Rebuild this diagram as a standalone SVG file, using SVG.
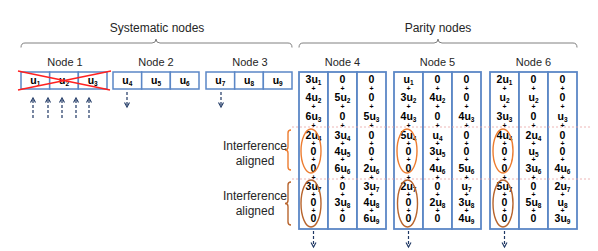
<svg xmlns="http://www.w3.org/2000/svg" width="598" height="251" viewBox="0 0 598 251">
<defs>
<marker id="ah" markerWidth="8" markerHeight="8" refX="5" refY="3" orient="auto" markerUnits="userSpaceOnUse">
<path d="M0.5,0.5 L5,3 L0.5,5.5" fill="none" stroke="#1F3864" stroke-width="1.1"/>
</marker>
</defs>
<style>
.box{fill:#fff;stroke:#5B87C6;stroke-width:1.5}
.pbox{fill:#fff;stroke:#5B87C6;stroke-width:1.8}
.t{font-family:"Liberation Sans",Arial,sans-serif;font-weight:bold;font-size:10.5px;text-anchor:middle;fill:#000}
.s{font-size:6.5px}
.p{font-family:"Liberation Sans",Arial,sans-serif;font-weight:bold;font-size:7px;text-anchor:middle;fill:#000}
.lbl{font-family:"Liberation Sans",Arial,sans-serif;font-size:11px;text-anchor:middle;fill:#262626}
.big{font-size:12px}
.brace{fill:none;stroke:#808080;stroke-width:1}
.arr{fill:none;stroke:#1F3864;stroke-width:1.2;stroke-dasharray:3 2;marker-end:url(#ah)}
.pink{stroke:#E8A3A3;stroke-width:0.8;stroke-dasharray:2 2}
.cross{stroke:#FF2020;stroke-width:1.5}
.e1{fill:none;stroke:#ED7D31;stroke-width:1.4}
.e2{fill:none;stroke:#B8652E;stroke-width:1.4}
</style>

<g id="headings">
<text class="lbl big" x="157" y="32">Systematic nodes</text>
<text class="lbl big" x="438" y="32">Parity nodes</text>
<path class="brace" d="M21,47.5 Q21,43 25,43 L152,43 Q156,43 156,39 Q156,43 160,43 L288,43 Q292,43 292,47.5"/>
<path class="brace" d="M299,47.5 Q299,43 303,43 L434,43 Q438,43 438,39 Q438,43 442,43 L573,43 Q577,43 577,47.5"/>
</g>

<g id="node1">
<text class="lbl" x="65" y="66">Node 1</text>
<rect class="box" x="21" y="72" width="28.67" height="17"/>
<rect class="box" x="49.67" y="72" width="28.67" height="17"/>
<rect class="box" x="78.33" y="72" width="28.67" height="17"/>
<text class="t" x="35.3" y="84">u<tspan class="s" dy="2">1</tspan></text>
<text class="t" x="64" y="84">u<tspan class="s" dy="2">2</tspan></text>
<text class="t" x="92.7" y="84">u<tspan class="s" dy="2">3</tspan></text>
<line class="cross" x1="18" y1="71" x2="110" y2="90"/>
<line class="cross" x1="18" y1="90" x2="111" y2="71"/>
</g>

<g id="node2">
<text class="lbl" x="156" y="66">Node 2</text>
<rect class="box" x="113" y="72" width="28.67" height="17"/>
<rect class="box" x="141.67" y="72" width="28.67" height="17"/>
<rect class="box" x="170.33" y="72" width="28.67" height="17"/>
<text class="t" x="127.3" y="84">u<tspan class="s" dy="2">4</tspan></text>
<text class="t" x="156" y="84">u<tspan class="s" dy="2">5</tspan></text>
<text class="t" x="184.7" y="84">u<tspan class="s" dy="2">6</tspan></text>
</g>

<g id="node3">
<text class="lbl" x="250" y="66">Node 3</text>
<rect class="box" x="206" y="72" width="28.67" height="17"/>
<rect class="box" x="234.67" y="72" width="28.67" height="17"/>
<rect class="box" x="263.33" y="72" width="28.67" height="17"/>
<text class="t" x="220.3" y="84">u<tspan class="s" dy="2">7</tspan></text>
<text class="t" x="249" y="84">u<tspan class="s" dy="2">8</tspan></text>
<text class="t" x="277.7" y="84">u<tspan class="s" dy="2">9</tspan></text>
</g>

<g id="node4">
<text class="lbl" x="342.5" y="66">Node 4</text>
<rect class="pbox" x="299" y="72" width="29" height="157"/>
<rect class="pbox" x="328" y="72" width="29" height="157"/>
<rect class="pbox" x="357" y="72" width="29" height="157"/>
</g>
<g id="node5">
<text class="lbl" x="437.5" y="66">Node 5</text>
<rect class="pbox" x="394" y="72" width="29" height="157"/>
<rect class="pbox" x="423" y="72" width="29" height="157"/>
<rect class="pbox" x="452" y="72" width="29" height="157"/>
</g>
<g id="node6">
<text class="lbl" x="533.5" y="66">Node 6</text>
<rect class="pbox" x="490" y="72" width="29" height="157"/>
<rect class="pbox" x="519" y="72" width="29" height="157"/>
<rect class="pbox" x="548" y="72" width="29" height="157"/>
</g>

<g id="guides">
<line class="pink" x1="292" y1="127" x2="590" y2="127"/>
<line class="pink" x1="292" y1="179" x2="590" y2="179"/>
</g>

<g id="node4-text">
<g transform="translate(313.5,0)">
<text class="t" y="82.5">3u<tspan class="s" dy="2">1</tspan></text>
<text class="t" y="100.5">4u<tspan class="s" dy="2">2</tspan></text>
<text class="t" y="119.5">6u<tspan class="s" dy="2">3</tspan></text>
<text class="t" y="138.5">2u<tspan class="s" dy="2">4</tspan></text>
<text class="t" y="154.5">0</text>
<text class="t" y="171.5">0</text>
<text class="t" y="189.5">3u<tspan class="s" dy="2">7</tspan></text>
<text class="t" y="205.5">0</text>
<text class="t" y="221.5">0</text>
<text class="p" y="90.5">+</text><text class="p" y="109">+</text><text class="p" y="128">+</text><text class="p" y="145.5">+</text><text class="p" y="162">+</text><text class="p" y="179.5">+</text><text class="p" y="196.5">+</text><text class="p" y="212.5">+</text>
</g>
<g transform="translate(342.5,0)">
<text class="t" y="82.5">0</text>
<text class="t" y="100.5">5u<tspan class="s" dy="2">2</tspan></text>
<text class="t" y="119.5">0</text>
<text class="t" y="138.5">3u<tspan class="s" dy="2">4</tspan></text>
<text class="t" y="154.5">4u<tspan class="s" dy="2">5</tspan></text>
<text class="t" y="171.5">6u<tspan class="s" dy="2">6</tspan></text>
<text class="t" y="189.5">0</text>
<text class="t" y="205.5">3u<tspan class="s" dy="2">8</tspan></text>
<text class="t" y="221.5">0</text>
<text class="p" y="90.5">+</text><text class="p" y="109">+</text><text class="p" y="128">+</text><text class="p" y="145.5">+</text><text class="p" y="162">+</text><text class="p" y="179.5">+</text><text class="p" y="196.5">+</text><text class="p" y="212.5">+</text>
</g>
<g transform="translate(371.5,0)">
<text class="t" y="82.5">0</text>
<text class="t" y="100.5">0</text>
<text class="t" y="119.5">5u<tspan class="s" dy="2">3</tspan></text>
<text class="t" y="138.5">0</text>
<text class="t" y="154.5">0</text>
<text class="t" y="171.5">2u<tspan class="s" dy="2">6</tspan></text>
<text class="t" y="189.5">3u<tspan class="s" dy="2">7</tspan></text>
<text class="t" y="205.5">4u<tspan class="s" dy="2">8</tspan></text>
<text class="t" y="221.5">6u<tspan class="s" dy="2">9</tspan></text>
<text class="p" y="90.5">+</text><text class="p" y="109">+</text><text class="p" y="128">+</text><text class="p" y="145.5">+</text><text class="p" y="162">+</text><text class="p" y="179.5">+</text><text class="p" y="196.5">+</text><text class="p" y="212.5">+</text>
</g>
</g>

<g id="node5-text">
<g transform="translate(408.5,0)">
<text class="t" y="82.5">u<tspan class="s" dy="2">1</tspan></text>
<text class="t" y="100.5">3u<tspan class="s" dy="2">2</tspan></text>
<text class="t" y="119.5">4u<tspan class="s" dy="2">3</tspan></text>
<text class="t" y="138.5">5u<tspan class="s" dy="2">4</tspan></text>
<text class="t" y="154.5">0</text>
<text class="t" y="171.5">0</text>
<text class="t" y="189.5">2u<tspan class="s" dy="2">7</tspan></text>
<text class="t" y="205.5">0</text>
<text class="t" y="221.5">0</text>
<text class="p" y="90.5">+</text><text class="p" y="109">+</text><text class="p" y="128">+</text><text class="p" y="145.5">+</text><text class="p" y="162">+</text><text class="p" y="179.5">+</text><text class="p" y="196.5">+</text><text class="p" y="212.5">+</text>
</g>
<g transform="translate(437.5,0)">
<text class="t" y="82.5">0</text>
<text class="t" y="100.5">4u<tspan class="s" dy="2">2</tspan></text>
<text class="t" y="119.5">0</text>
<text class="t" y="138.5">u<tspan class="s" dy="2">4</tspan></text>
<text class="t" y="154.5">3u<tspan class="s" dy="2">5</tspan></text>
<text class="t" y="171.5">4u<tspan class="s" dy="2">6</tspan></text>
<text class="t" y="189.5">0</text>
<text class="t" y="205.5">2u<tspan class="s" dy="2">8</tspan></text>
<text class="t" y="221.5">0</text>
<text class="p" y="90.5">+</text><text class="p" y="109">+</text><text class="p" y="128">+</text><text class="p" y="145.5">+</text><text class="p" y="162">+</text><text class="p" y="179.5">+</text><text class="p" y="196.5">+</text><text class="p" y="212.5">+</text>
</g>
<g transform="translate(466.5,0)">
<text class="t" y="82.5">0</text>
<text class="t" y="100.5">0</text>
<text class="t" y="119.5">4u<tspan class="s" dy="2">3</tspan></text>
<text class="t" y="138.5">0</text>
<text class="t" y="154.5">0</text>
<text class="t" y="171.5">5u<tspan class="s" dy="2">6</tspan></text>
<text class="t" y="189.5">u<tspan class="s" dy="2">7</tspan></text>
<text class="t" y="205.5">3u<tspan class="s" dy="2">8</tspan></text>
<text class="t" y="221.5">4u<tspan class="s" dy="2">9</tspan></text>
<text class="p" y="90.5">+</text><text class="p" y="109">+</text><text class="p" y="128">+</text><text class="p" y="145.5">+</text><text class="p" y="162">+</text><text class="p" y="179.5">+</text><text class="p" y="196.5">+</text><text class="p" y="212.5">+</text>
</g>
</g>

<g id="node6-text">
<g transform="translate(504.5,0)">
<text class="t" y="82.5">2u<tspan class="s" dy="2">1</tspan></text>
<text class="t" y="100.5">u<tspan class="s" dy="2">2</tspan></text>
<text class="t" y="119.5">3u<tspan class="s" dy="2">3</tspan></text>
<text class="t" y="138.5">4u<tspan class="s" dy="2">4</tspan></text>
<text class="t" y="154.5">0</text>
<text class="t" y="171.5">0</text>
<text class="t" y="189.5">5u<tspan class="s" dy="2">7</tspan></text>
<text class="t" y="205.5">0</text>
<text class="t" y="221.5">0</text>
<text class="p" y="90.5">+</text><text class="p" y="109">+</text><text class="p" y="128">+</text><text class="p" y="145.5">+</text><text class="p" y="162">+</text><text class="p" y="179.5">+</text><text class="p" y="196.5">+</text><text class="p" y="212.5">+</text>
</g>
<g transform="translate(533.5,0)">
<text class="t" y="82.5">0</text>
<text class="t" y="100.5">u<tspan class="s" dy="2">2</tspan></text>
<text class="t" y="119.5">0</text>
<text class="t" y="138.5">2u<tspan class="s" dy="2">4</tspan></text>
<text class="t" y="154.5">u<tspan class="s" dy="2">5</tspan></text>
<text class="t" y="171.5">3u<tspan class="s" dy="2">6</tspan></text>
<text class="t" y="189.5">0</text>
<text class="t" y="205.5">5u<tspan class="s" dy="2">8</tspan></text>
<text class="t" y="221.5">0</text>
<text class="p" y="90.5">+</text><text class="p" y="109">+</text><text class="p" y="128">+</text><text class="p" y="145.5">+</text><text class="p" y="162">+</text><text class="p" y="179.5">+</text><text class="p" y="196.5">+</text><text class="p" y="212.5">+</text>
</g>
<g transform="translate(562.5,0)">
<text class="t" y="82.5">0</text>
<text class="t" y="100.5">0</text>
<text class="t" y="119.5">u<tspan class="s" dy="2">3</tspan></text>
<text class="t" y="138.5">0</text>
<text class="t" y="154.5">0</text>
<text class="t" y="171.5">4u<tspan class="s" dy="2">6</tspan></text>
<text class="t" y="189.5">2u<tspan class="s" dy="2">7</tspan></text>
<text class="t" y="205.5">u<tspan class="s" dy="2">8</tspan></text>
<text class="t" y="221.5">3u<tspan class="s" dy="2">9</tspan></text>
<text class="p" y="90.5">+</text><text class="p" y="109">+</text><text class="p" y="128">+</text><text class="p" y="145.5">+</text><text class="p" y="162">+</text><text class="p" y="179.5">+</text><text class="p" y="196.5">+</text><text class="p" y="212.5">+</text>
</g>
</g>

<g id="alignment">
<ellipse class="e1" cx="311" cy="151" rx="10" ry="22"/>
<ellipse class="e2" cx="311" cy="203.5" rx="10" ry="23.5"/>
<ellipse class="e1" cx="407" cy="151" rx="10" ry="22"/>
<ellipse class="e2" cx="407.5" cy="203.5" rx="10" ry="23.5"/>
<ellipse class="e1" cx="503" cy="151" rx="10" ry="22"/>
<ellipse class="e2" cx="503" cy="203.5" rx="10" ry="23.5"/>
<path class="e1" d="M291,130 Q288,130 288,133 L288,147 Q288,150 285,150 Q288,150 288,153 L288,167 Q288,170 291,170"/>
<path class="e2" d="M291,182 Q288,182 288,185 L288,200.5 Q288,203.5 285,203.5 Q288,203.5 288,206.5 L288,222 Q288,225 291,225"/>
<text class="lbl big" x="255" y="149.5">Interference</text>
<text class="lbl big" x="255" y="165">aligned</text>
<text class="lbl big" x="255" y="199.5">Interference</text>
<text class="lbl big" x="255" y="215">aligned</text>
</g>

<g id="connectors">
<line class="arr" x1="33" y1="118" x2="33" y2="98"/>
<line class="arr" x1="48" y1="118" x2="48" y2="98"/>
<line class="arr" x1="62" y1="118" x2="62" y2="98"/>
<line class="arr" x1="76" y1="118" x2="76" y2="98"/>
<line class="arr" x1="89" y1="118" x2="89" y2="98"/>
<line class="arr" x1="127" y1="92" x2="127" y2="107"/>
<line class="arr" x1="221" y1="92" x2="221" y2="107"/>
<line class="arr" x1="313.5" y1="231" x2="313.5" y2="247"/>
<line class="arr" x1="408.5" y1="231" x2="408.5" y2="247"/>
<line class="arr" x1="504.5" y1="231" x2="504.5" y2="247"/>
</g>
</svg>
